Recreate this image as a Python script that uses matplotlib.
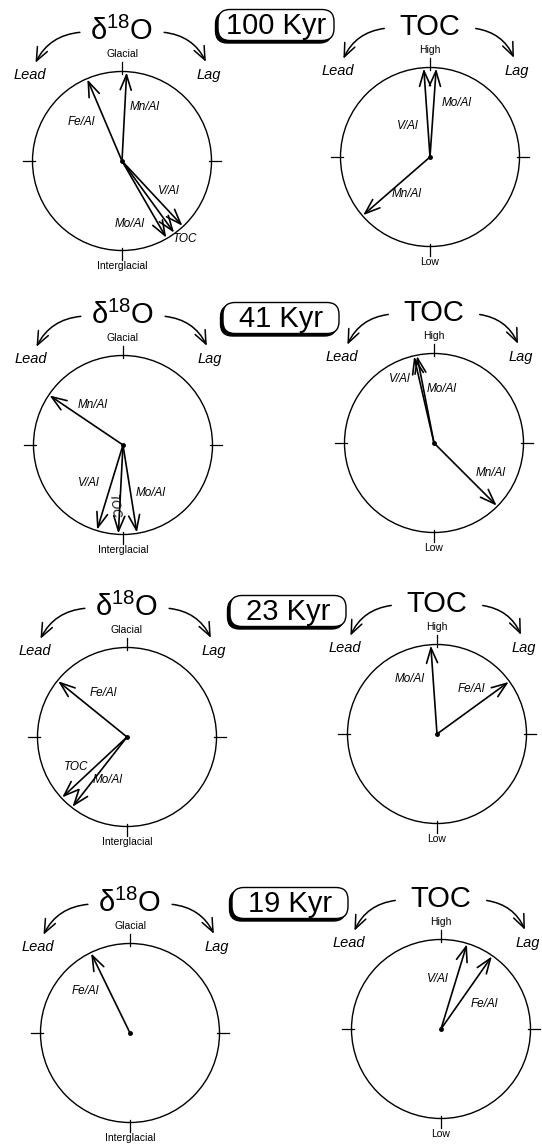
import numpy as np
import matplotlib
matplotlib.use("Agg")
import matplotlib.pyplot as plt
from matplotlib.patches import Circle, FancyArrowPatch, FancyBboxPatch

plt.rcParams['font.family'] = ['Liberation Sans', 'DejaVu Sans']
plt.rcParams['mathtext.fontset'] = 'custom'
plt.rcParams['mathtext.rm'] = 'Liberation Sans'

# ---------------- data (phase angles, degrees; + = lag, - = lead) ----------------
periods = ['100 Kyr', '41 Kyr', '23 Kyr', '19 Kyr']

d18o_names_100 = ['Fe/Al', 'Mn/Al', 'V/Al', 'TOC', 'Mo/Al']
d18o_phase_100 = [-23, 3, 137, 144, 150]
d18o_names_41 = ['Mn/Al', 'V/Al', 'TOC', 'Mo/Al']
d18o_phase_41 = [-56, -163, -177, 171]
d18o_names_23 = ['Fe/Al', 'TOC', 'Mo/Al']
d18o_phase_23 = [-51, -133, -142]
d18o_names_19 = ['Fe/Al']
d18o_phase_19 = [-26]

toc_names_100 = ['V/Al', 'Mo/Al', 'Mn/Al']
toc_phase_100 = [-4, 4, -131]
toc_names_41 = ['V/Al', 'Mo/Al', 'Mn/Al']
toc_phase_41 = [-13, -11, 135]
toc_names_23 = ['Mo/Al', 'Fe/Al']
toc_phase_23 = [-4, 54]
toc_names_19 = ['V/Al', 'Fe/Al']
toc_phase_19 = [17, 35]

# ---------------- layout ----------------
W, H = 542, 1147
R = 89.5  # circle radius in px
centers_left = [(122, 161), (123, 445), (127, 737), (130, 1033)]
centers_right = [(430, 157), (434, 443), (437, 734), (441, 1029)]
box_centers = [(276, 25), (281, 318), (288, 611), (290, 903)]

# label positions (unit-circle coords) and rotations
lab_d18o = [
    [(-0.45, 0.44, 0), (0.25, 0.60, 0), (0.52, -0.33, 0), (0.71, -0.875, 0), (0.09, -0.70, 0)],
    [(-0.34, 0.45, 0), (-0.38, -0.43, 0), (-0.10, -0.69, -82), (0.31, -0.54, 0)],
    [(-0.27, 0.49, 0), (-0.57, -0.34, 0), (-0.22, -0.48, 0)],
    [(-0.50, 0.47, 0)],
]
lab_toc = [
    [(-0.25, 0.35, 0), (0.30, 0.60, 0), (-0.26, -0.41, 0)],
    [(-0.38, 0.715, 0), (0.09, 0.60, 0), (0.63, -0.34, 0)],
    [(-0.31, 0.61, 0), (0.38, 0.50, 0)],
    [(-0.04, 0.56, 0), (0.48, 0.28, 0)],
]

d18o_sets = [(d18o_names_100, d18o_phase_100), (d18o_names_41, d18o_phase_41),
             (d18o_names_23, d18o_phase_23), (d18o_names_19, d18o_phase_19)]
toc_sets = [(toc_names_100, toc_phase_100), (toc_names_41, toc_phase_41),
            (toc_names_23, toc_phase_23), (toc_names_19, toc_phase_19)]

fig = plt.figure(figsize=(W / 100, H / 100), dpi=100)

XL, XR, YB, YT = -1.6, 1.6, -1.6, 1.7


def panel(center, title, top_lab, bot_lab, names, phases, labs, arrow_x0):
    cx, cy = center
    left = (cx + XL * R) / W
    bottom = (H - (cy - YB * R)) / H
    w = (XR - XL) * R / W
    h = (YT - YB) * R / H
    ax = fig.add_axes([left, bottom, w, h])
    ax.set_xlim(XL, XR)
    ax.set_ylim(YB, YT)
    ax.axis('off')
    ax.patch.set_alpha(0)
    ax.add_patch(Circle((0, 0), 1.0, fill=False, ec='black', lw=1.0))
    for a in np.deg2rad([0, 90, 180, 270]):
        ax.plot([0.97 * np.sin(a), 1.11 * np.sin(a)], [0.97 * np.cos(a), 1.11 * np.cos(a)],
                color='black', lw=0.9)
    ax.plot(0, 0, 'o', ms=2.5, color='black')
    for nm, ph, (lx, ly, rot) in zip(names, phases, labs):
        t = np.deg2rad(ph)
        ax.annotate('', xy=(0.99 * np.sin(t), 0.99 * np.cos(t)), xytext=(0, 0),
                    arrowprops=dict(arrowstyle='->,head_length=0.6,head_width=0.22',
                                    lw=1.2, color='black', shrinkA=0, shrinkB=0,
                                    mutation_scale=18))
        ax.text(lx, ly, nm, style='italic', fontsize=8.5, ha='center', va='center',
                rotation=rot)
    ax.text(0, 1.45, title, fontsize=21, ha='center', va='center')
    ax.text(0, 1.19, top_lab, fontsize=7.5, ha='center', va='center')
    ax.text(0, -1.17, bot_lab, fontsize=7.5, ha='center', va='center')
    ax.text(-1.03, 0.96, 'Lead', style='italic', fontsize=10.5, ha='center', va='center')
    ax.text(0.97, 0.96, 'Lag', style='italic', fontsize=10.5, ha='center', va='center')
    ax.add_patch(FancyArrowPatch((-arrow_x0, 1.44), (-0.98, 1.07),
                                 connectionstyle='arc3,rad=0.3',
                                 arrowstyle='->,head_length=0.6,head_width=0.25',
                                 mutation_scale=16, lw=1.1, color='black'))
    ax.add_patch(FancyArrowPatch((arrow_x0, 1.44), (0.95, 1.08),
                                 connectionstyle='arc3,rad=-0.3',
                                 arrowstyle='->,head_length=0.6,head_width=0.25',
                                 mutation_scale=16, lw=1.1, color='black'))


for i in range(4):
    n, p = d18o_sets[i]
    panel(centers_left[i], r'$\mathregular{\delta^{18}O}$', 'Glacial', 'Interglacial',
          n, p, lab_d18o[i], 0.44)
    n, p = toc_sets[i]
    panel(centers_right[i], 'TOC', 'High', 'Low', n, p, lab_toc[i], 0.48)

# period boxes
ov = fig.add_axes([0, 0, 1, 1])
ov.set_xlim(0, W)
ov.set_ylim(H, 0)
ov.axis('off')
ov.patch.set_alpha(0)
bw, bh = 116, 31
for (bx, by), per in zip(box_centers, periods):
    ov.add_patch(FancyBboxPatch((bx - bw / 2 - 2.5, by - bh / 2 + 2.5), bw, bh,
                                boxstyle='round,pad=0,rounding_size=12',
                                fc='black', ec='black', lw=1.0))
    ov.add_patch(FancyBboxPatch((bx - bw / 2, by - bh / 2), bw, bh,
                                boxstyle='round,pad=0,rounding_size=12',
                                fc='white', ec='black', lw=1.0))
    ov.text(bx, by + 1, per, fontsize=21, ha='center', va='center')

fig.savefig('out.png', dpi=100)
